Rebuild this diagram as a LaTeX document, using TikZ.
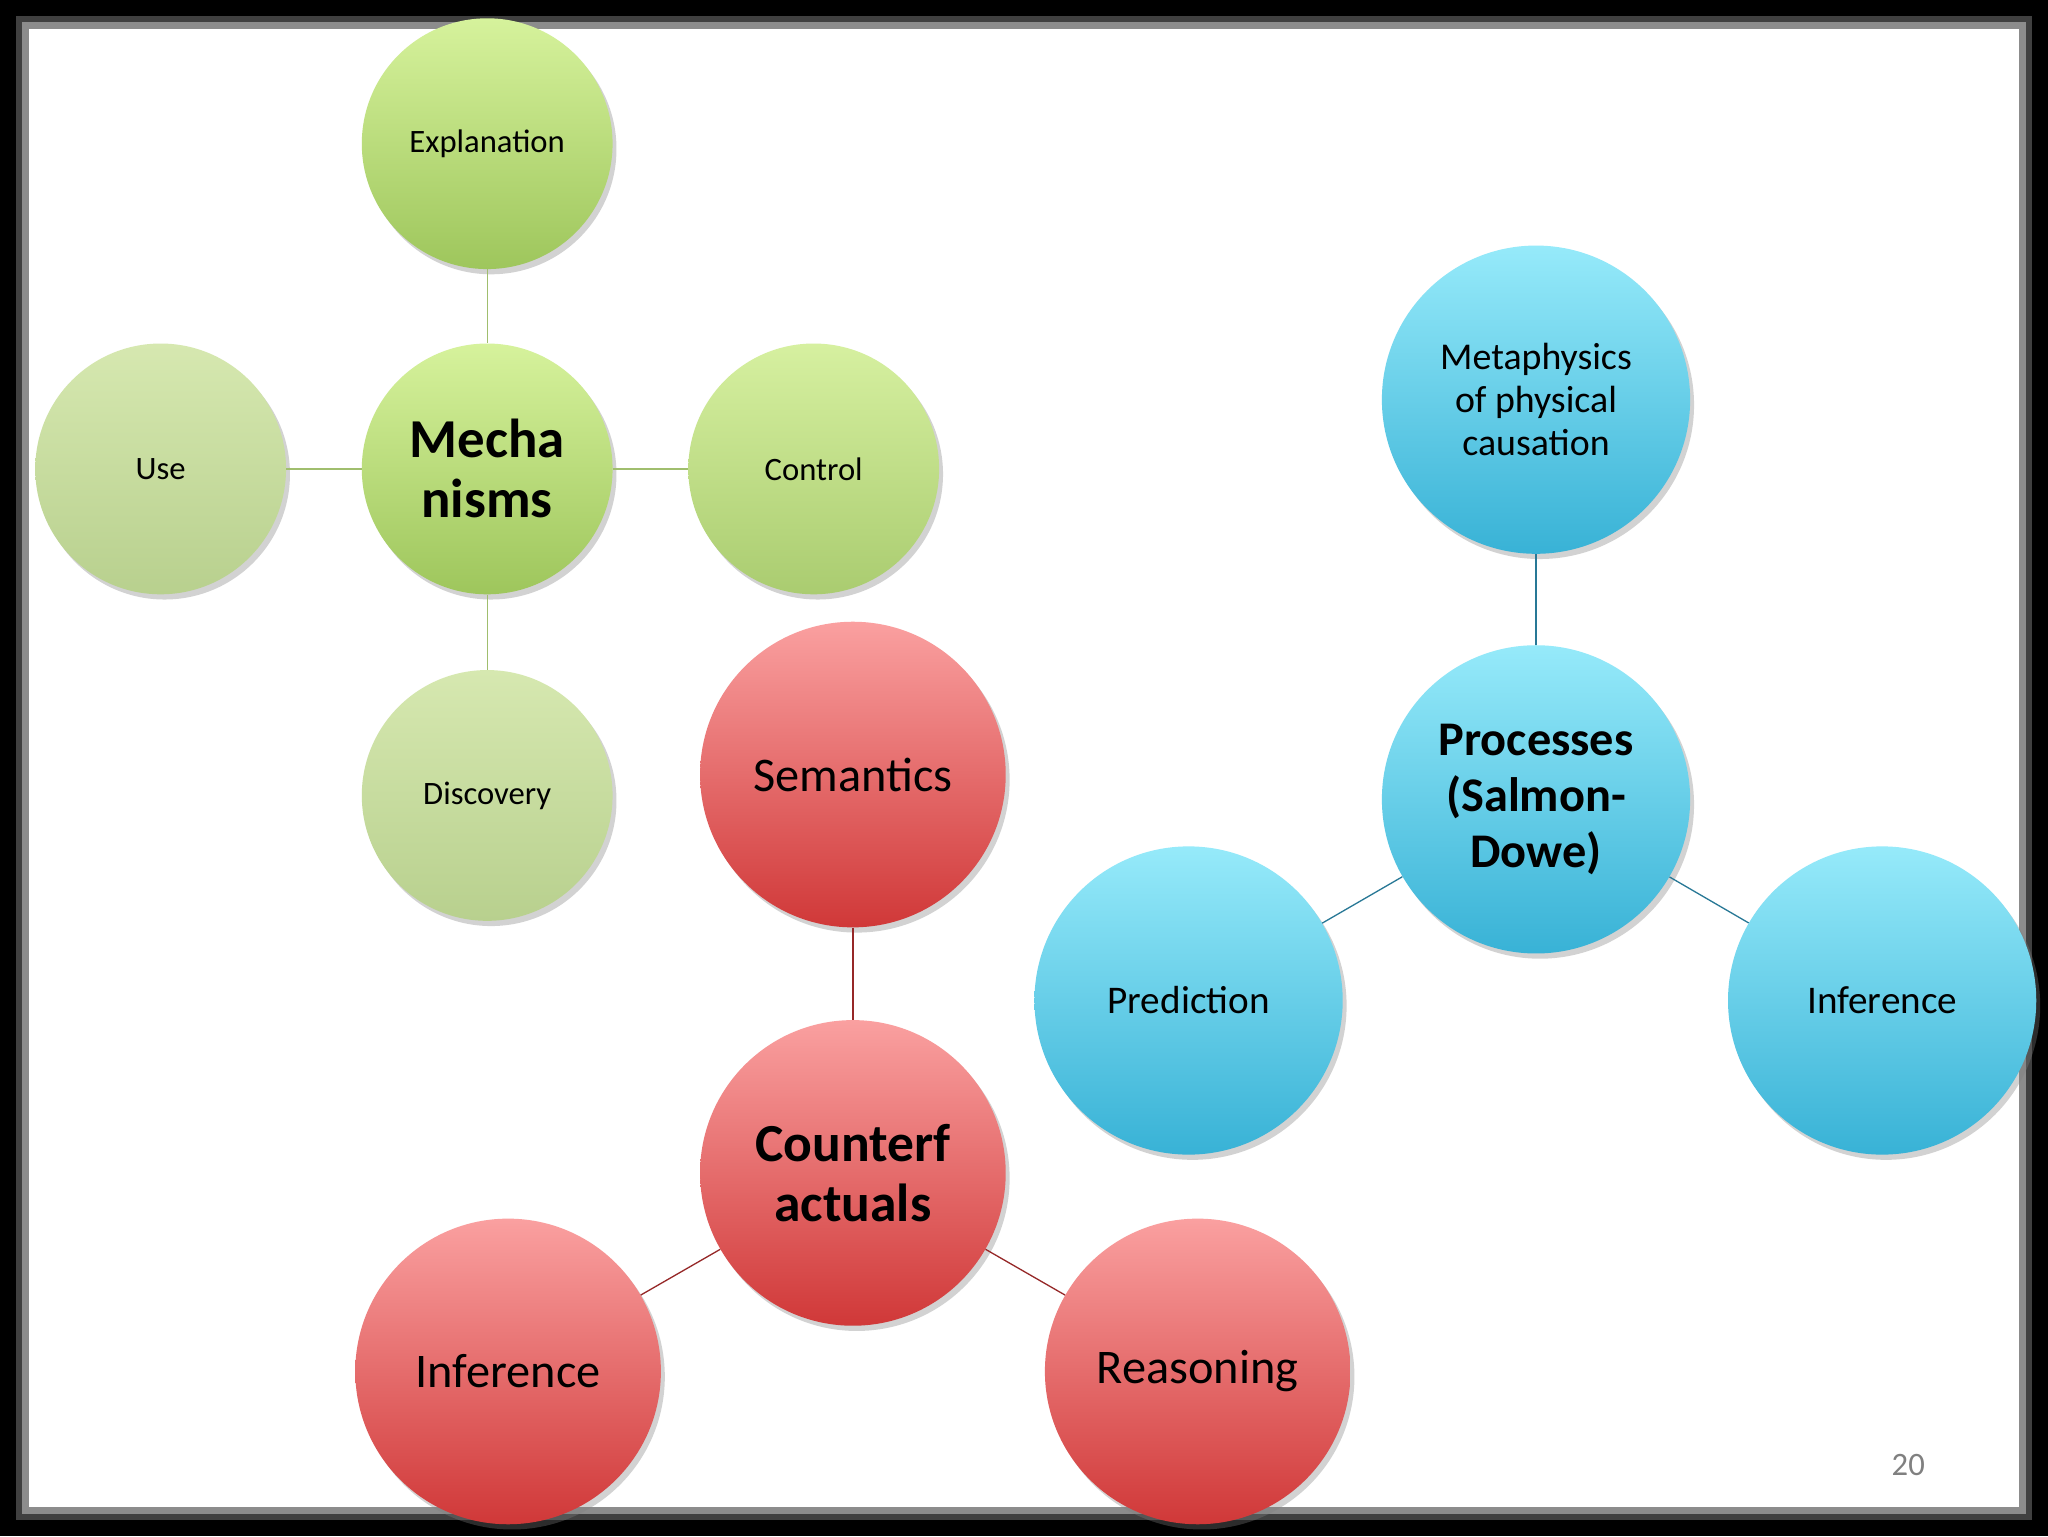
\documentclass[tikz,border=0pt]{standalone}
\usepackage{fontspec}
\setmainfont{Carlito}
\usetikzlibrary{shadows}
\definecolor{gtop}{RGB}{214,242,156}
\definecolor{gbot}{RGB}{158,198,92}
\definecolor{ftop}{RGB}{214,232,176}
\definecolor{fbot}{RGB}{184,208,142}
\definecolor{ctop}{RGB}{214,240,160}
\definecolor{cbot}{RGB}{170,204,112}
\begin{document}
\begin{tikzpicture}[x=1pt,y=-1pt,
 bub/.style={circle,minimum size=#1,inner sep=0pt,align=center,text=black,
   drop shadow={shadow xshift=3pt,shadow yshift=-4pt,opacity=0.35,fill=gray}},
 grn/.style={bub=192pt,top color=gtop,bottom color=gbot,font=\fontsize{25}{29}\selectfont},
 gfade/.style={bub=192pt,top color=ftop,bottom color=fbot,font=\fontsize{25}{29}\selectfont},
 red/.style={bub=234pt,top color={rgb,255:red,250;green,160;blue,160},bottom color={rgb,255:red,208;green,56;blue,56},font=\fontsize{37}{42}\selectfont},
 blu/.style={bub=236pt,top color={rgb,255:red,150;green,234;blue,250},bottom color={rgb,255:red,56;green,178;blue,214},font=\fontsize{30}{34}\selectfont},
 gl/.style={draw={rgb,255:red,160;green,190;blue,110},line width=1pt},
 rl/.style={draw={rgb,255:red,150;green,40;blue,40},line width=1pt},
 bl/.style={draw={rgb,255:red,40;green,120;blue,150},line width=1pt}]
\fill[black] (0,0) rectangle (1568,1176);
\fill[black!75] (12,12) rectangle (1556,1164);
\fill[black!45] (17,17) rectangle (1551,1159);
\fill[white] (22,22) rectangle (1546,1154);
\useasboundingbox (0,0) rectangle (1568,1176);
% green
\node[grn] (exp) at (373,110) {Explanation};
\node[grn,font=\fontsize{42}{46}\selectfont\bfseries] (mech) at (373,359) {Mecha\\nisms};
\node[gfade] (use) at (123,359) {Use};
\node[grn,top color=ctop,bottom color=cbot] (ctl) at (623,359) {Control};
\node[gfade] (disc) at (373,609) {Discovery};
\draw[gl] (exp) -- (mech); \draw[gl] (use) -- (mech); \draw[gl] (mech) -- (ctl); \draw[gl] (mech) -- (disc);
% red
\node[red] (sem) at (653,593) {Semantics};
\node[red,font=\fontsize{41}{46}\selectfont\bfseries] (cf) at (653,898) {Counterf\\actuals};
\node[red] (rinf) at (389,1050) {Inference};
\node[red] (reas) at (917,1050) {Reasoning};
\draw[rl] (sem) -- (cf); \draw[rl] (cf) -- (rinf); \draw[rl] (cf) -- (reas);
% blue
\node[blu,font=\fontsize{29}{33}\selectfont] (meta) at (1176,306) {Metaphysics\\of physical\\causation};
\node[blu,font=\fontsize{37}{43}\selectfont\bfseries] (proc) at (1176,612) {Processes\\(Salmon-\\Dowe)};
\node[blu] (pred) at (910,766) {Prediction};
\node[blu] (binf) at (1441,766) {Inference};
\draw[bl] (meta) -- (proc); \draw[bl] (proc) -- (pred); \draw[bl] (proc) -- (binf);
\node[text=gray,font=\fontsize{25}{28}\selectfont] (pg) at (1461,1122) {20};
\end{tikzpicture}
\end{document}
